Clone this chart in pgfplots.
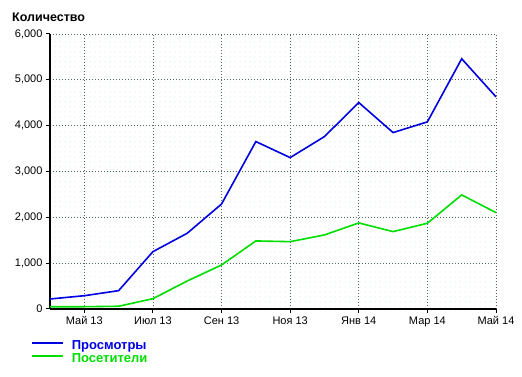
\documentclass[border=0pt]{standalone}
\usepackage{pgfplots}
\pgfplotsset{compat=1.18}
\usepackage{fontspec}
\setmainfont{Liberation Sans}
\usetikzlibrary{patterns.meta}
\definecolor{serblue}{RGB}{0,0,224}
\definecolor{sergreen}{RGB}{0,221,0}
\definecolor{dotc}{RGB}{195,222,222}
\definecolor{gridc}{RGB}{80,100,100}
\begin{document}
\begin{tikzpicture}
\useasboundingbox (0,0) rectangle (522pt,377pt);
\begin{axis}[
  at={(50pt,68pt)}, anchor=south west,
  scale only axis, width=446pt, height=275pt,
  xmin=0, xmax=13, ymin=0, ymax=6000,
  xtick={1,3,5,7,9,11,13},
  xticklabels={Май 13, Июл 13, Сен 13, Ноя 13, Янв 14, Мар 14, Май 14},
  ytick={0,1000,...,6000},
  scaled y ticks=false,
  /pgf/number format/assume math mode=true,
  /pgf/number format/1000 sep={,},
  axis x line=bottom, axis y line=left,
  axis line style={-, line width=2.4pt, black},
  tick align=outside, major tick length=4pt,
  tick style={black, line width=1pt},
  grid=major,
  grid style={gridc, line width=0.8pt, dash pattern=on 0.8pt off 2.2pt},
  axis background/.style={pattern={Dots[distance=5pt,radius=0.5pt]}, pattern color=dotc},
  tick label style={font=\fontsize{11}{13}\selectfont},
  clip=false,
  legend style={at={(rel axis cs:0,0)}, anchor=north west, xshift=-19pt, yshift=-31pt,
    draw=none, fill=none, inner sep=0pt, row sep=0pt,
    font=\bfseries\fontsize{13}{15}\selectfont,
    nodes={inner sep=0pt, text height=9pt, text depth=4pt},
    column sep=8pt},
  legend cell align=left,
  legend image code/.code={\draw[#1] (0pt,3.5pt) -- (31pt,3.5pt);},
]
\addplot[serblue, line width=1.6pt] coordinates {
 (0,218) (1,290) (2,400) (3,1251) (4,1653) (5,2290) (6,3653) (7,3303)
 (8,3762) (9,4504) (10,3849) (11,4083) (12,5459) (13,4629)};
\addplot[sergreen, line width=1.6pt] coordinates {
 (0,50) (1,50) (2,60) (3,225) (4,611) (5,960) (6,1485) (7,1469)
 (8,1616) (9,1878) (10,1688) (11,1871) (12,2489) (13,2103)};
\legend{\textcolor{serblue}{Просмотры}, \textcolor{sergreen}{Посетители}}
\end{axis}
\node[anchor=west, inner sep=0pt, font=\bfseries\fontsize{12.5}{14}\selectfont] at (12pt,359.5pt) {Количество};
\end{tikzpicture}
\end{document}
